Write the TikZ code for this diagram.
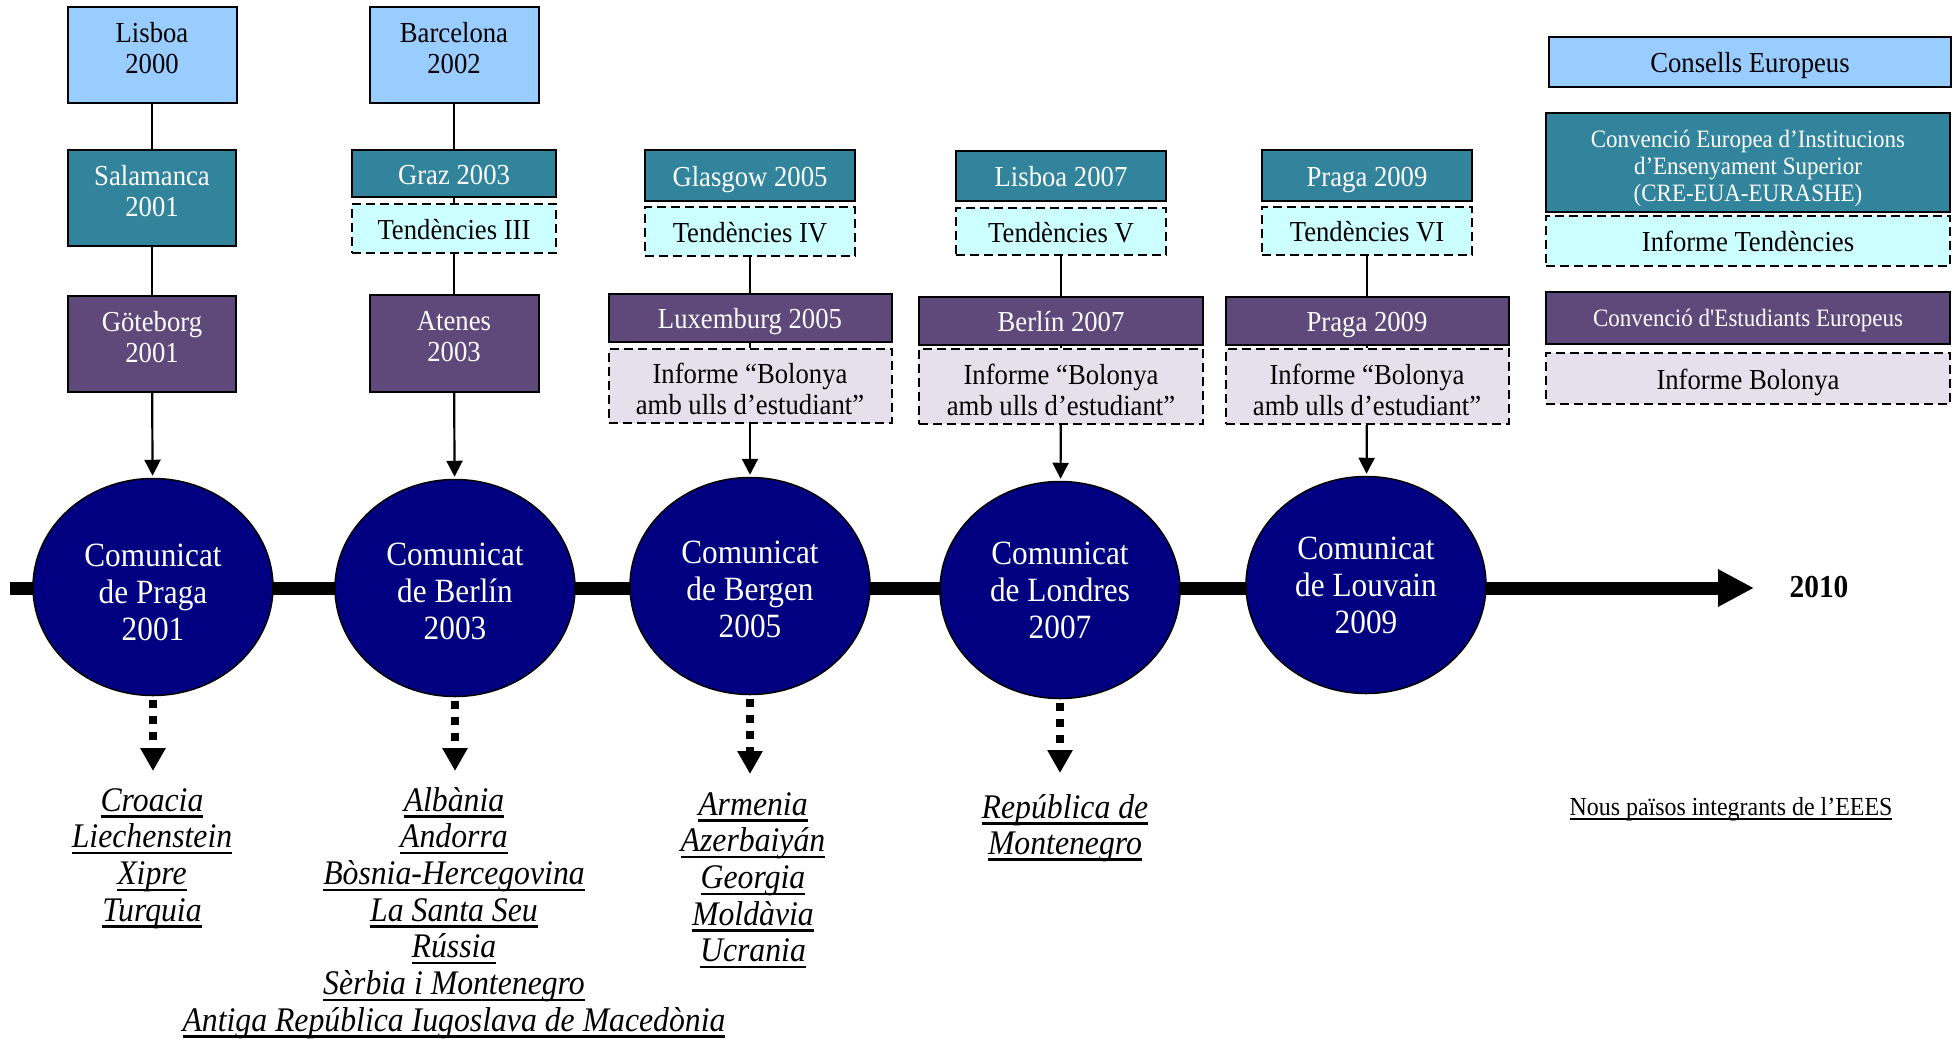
\documentclass[tikz,border=0pt]{standalone}
\usepackage{fontspec}
\setmainfont{Liberation Serif}[FakeStretch=0.92]
\usetikzlibrary{arrows.meta,shapes.geometric}

\definecolor{councilblue}{HTML}{99CCFF}
\definecolor{insteal}{HTML}{31849B}
\definecolor{studpurple}{HTML}{5F497A}
\definecolor{trendcyan}{HTML}{CCFFFF}
\definecolor{bololav}{HTML}{E5E0EC}
\definecolor{commnavy}{HTML}{000080}

% underlined word with a heavy rule
\newcommand{\ulword}[1]{\setbox0=\hbox{#1}\leavevmode\rlap{\copy0}\rule[-6.5pt]{\wd0}{2.4pt}}
\newcommand{\ulthin}[1]{\setbox0=\hbox{#1}\leavevmode\rlap{\copy0}\rule[-5pt]{\wd0}{1.8pt}}
% extra depth that lifts two-line labels inside tall boxes
\newcommand{\lowpad}{\rule[-14pt]{0pt}{14pt}}
% extra height that lowers a label a little
\newcommand{\toppad}[1]{\rule{0pt}{#1}}

\begin{document}
\begin{tikzpicture}[x=1pt,y=-1pt,
  box/.style={draw=black, line width=2pt, inner sep=0pt, align=center,
    font=\fontsize{29}{31}\selectfont},
  oneline/.style={text height=21pt, text depth=0pt},
  sz/.style 2 args={minimum width=#1pt, minimum height=#2pt},
  council/.style={box, fill=councilblue},
  inst/.style={box, fill=insteal, text=white},
  student/.style={box, fill=studpurple, text=white},
  trendbox/.style={box, fill=trendcyan, dash pattern=on 9pt off 5pt},
  bolobox/.style={box, fill=bololav, dash pattern=on 9pt off 5pt},
  comm/.style={ellipse, draw=black, line width=1.5pt, fill=commnavy, text=white,
    inner sep=0pt, minimum width=240pt, minimum height=217pt, align=center,
    font=\fontsize{34}{37}\selectfont},
  link/.style={draw=black, line width=2.2pt},
  linkarrow/.style={link, -{Triangle[width=16pt,length=16pt]}, shorten >=2pt},
  newlink/.style={draw=black, line width=8pt, dash pattern=on 8pt off 8pt,
    shorten <=4pt, -{Triangle[width=24pt,length=23pt]}},
  tline/.style={draw=black, line width=13pt, -{Triangle[width=35pt,length=36pt]}},
  ctry/.style={inner sep=0pt, anchor=base, font=\fontsize{34.5}{36}\selectfont\itshape}
]
\useasboundingbox (0,0) rectangle (1955,1039);

% timeline bar
\coordinate (tl0) at (10,588);
\coordinate (tl1) at (1754,588);
\draw[tline] (tl0) -- (tl1);
\node[inner sep=0pt, font=\fontsize{32}{34}\selectfont\bfseries] (y2010) at (1819,587) {2010};

% column 2001
\node[council, sz={169}{96}] (lis00) at (152,55) {Lisboa\\2000\lowpad};
\node[inst, sz={168}{96}] (sal01) at (152,198) {Salamanca\\2001\lowpad};
\node[student, sz={168}{96}] (got01) at (152,344) {Göteborg\\2001\lowpad};
\node[comm] (ell1) at (153,587) {\toppad{33pt}Comunicat\\de Praga\\2001};

% column 2003
\node[council, sz={169}{96}] (bar02) at (454,55) {Barcelona\\2002\lowpad};
\node[inst, oneline, sz={204}{47}] (graz03) at (454,173.5) {Graz 2003};
\node[trendbox, oneline, sz={204}{49}] (ten3) at (454,228.5) {Tendències III};
\node[student, sz={169}{97}] (ate03) at (454,343.5) {Atenes\\2003\lowpad};
\node[comm] (ell2) at (455,588) {\toppad{30pt}Comunicat\\de Berlín\\2003};

% column 2005
\node[inst, oneline, sz={210}{51}] (gla05) at (750,175.5) {Glasgow 2005};
\node[trendbox, oneline, sz={210}{49}] (ten4) at (750,231.5) {Tendències IV};
\node[student, oneline, sz={283}{48}] (lux05) at (750,318) {Luxemburg 2005};
\node[bolobox, sz={283}{74}] (inf05) at (750,386) {\toppad{27pt}Informe “Bolonya\\amb ulls d’estudiant”};
\node[comm] (ell3) at (750,586) {\toppad{30pt}Comunicat\\de Bergen\\2005};

% column 2007
\node[inst, oneline, sz={210}{50}] (lis07) at (1061,176) {Lisboa 2007};
\node[trendbox, oneline, sz={210}{47}] (ten5) at (1061,231.5) {Tendències V};
\node[student, oneline, sz={284}{48}] (ber07) at (1061,321) {Berlín 2007};
\node[bolobox, sz={284}{75}] (inf07) at (1061,386.5) {\toppad{27pt}Informe “Bolonya\\amb ulls d’estudiant”};
\node[comm] (ell4) at (1060,590) {Comunicat\\de Londres\\2007};

% column 2009
\node[inst, oneline, sz={210}{51}] (pra09a) at (1367,175.5) {Praga 2009};
\node[trendbox, oneline, sz={210}{48}] (ten6) at (1367,231) {Tendències VI};
\node[student, oneline, sz={283}{48}] (pra09b) at (1367,321) {Praga 2009};
\node[bolobox, sz={283}{75}] (inf09) at (1367,386.5) {\toppad{27pt}Informe “Bolonya\\amb ulls d’estudiant”};
\node[comm] (ell5) at (1366,585) {Comunicat\\de Louvain\\2009};

% connectors
\draw[link] (lis00) -- (sal01);
\draw[link] (sal01) -- (got01);
\draw[linkarrow] (got01) -- (ell1);
\draw[link] (bar02) -- (graz03);
\draw[link] (graz03) -- (ten3);
\draw[link] (ten3) -- (ate03);
\draw[linkarrow] (ate03) -- (ell2);
\draw[link] (ten4) -- (lux05);
\draw[link] (lux05) -- (inf05);
\draw[linkarrow] (inf05) -- (ell3);
\draw[link] (ten5) -- (ber07);
\draw[link] (ber07) -- (inf07);
\draw[linkarrow] (inf07) -- (ell4);
\draw[link] (ten6) -- (pra09b);
\draw[link] (pra09b) -- (inf09);
\draw[linkarrow] (inf09) -- (ell5);

% new member countries
\coordinate (dn1) at (153,771);
\coordinate (dn2) at (455,771);
\coordinate (dn3) at (750,774);
\coordinate (dn4) at (1060,773);
\draw[newlink] (ell1.south) -- (dn1);
\draw[newlink] (ell2.south) -- (dn2);
\draw[newlink] (ell3.south) -- (dn3);
\draw[newlink] (ell4.south) -- (dn4);

\foreach \txt [count=\i] in {Croacia,Liechenstein,Xipre,Turquia}
  \node[ctry, name=pa-\i] at (152,{774.3+36.7*\i}) {\ulword{\txt}};
\foreach \txt [count=\i] in {Albània,Andorra,Bòsnia-Hercegovina,La Santa Seu,Rússia,Sèrbia i Montenegro,Antiga República Iugoslava de Macedònia}
  \node[ctry, name=be-\i] at (454,{774.3+36.7*\i}) {\ulword{\txt}};
\foreach \txt [count=\i] in {Armenia,Azerbaiyán,Georgia,Moldàvia,Ucrania}
  \node[ctry, name=bg-\i] at (753,{778.3+36.7*\i}) {\ulword{\txt}};
\node[ctry] (lo-1) at (1065,818) {\ulword{República de}};
\node[ctry] (lo-2) at (1065,854) {\ulword{Montenegro}};

% legend
\node[council, oneline, sz={402}{50}] (lg1) at (1750,62) {Consells Europeus};
\node[inst, sz={404}{99}, font=\fontsize{25}{27}\selectfont] (lg2) at (1748,162.5)
  {\toppad{30pt}Convenció Europea d’Institucions\\d’Ensenyament Superior\\(CRE-EUA-EURASHE)};
\node[trendbox, oneline, sz={404}{50}] (lg3) at (1748,241) {Informe Tendències};
\node[student, oneline, text height=17pt, sz={404}{52}, font=\fontsize{25}{27}\selectfont] (lg4) at (1748,318)
  {Convenció d\textquotesingle Estudiants Europeus};
\node[bolobox, oneline, sz={404}{51}] (lg5) at (1748,378.5) {Informe Bolonya};
\node[inner sep=0pt, anchor=base, font=\fontsize{26}{28}\selectfont] (lg6) at (1731,815)
  {\ulthin{Nous països integrants de l’EEES}};
\end{tikzpicture}
\end{document}
